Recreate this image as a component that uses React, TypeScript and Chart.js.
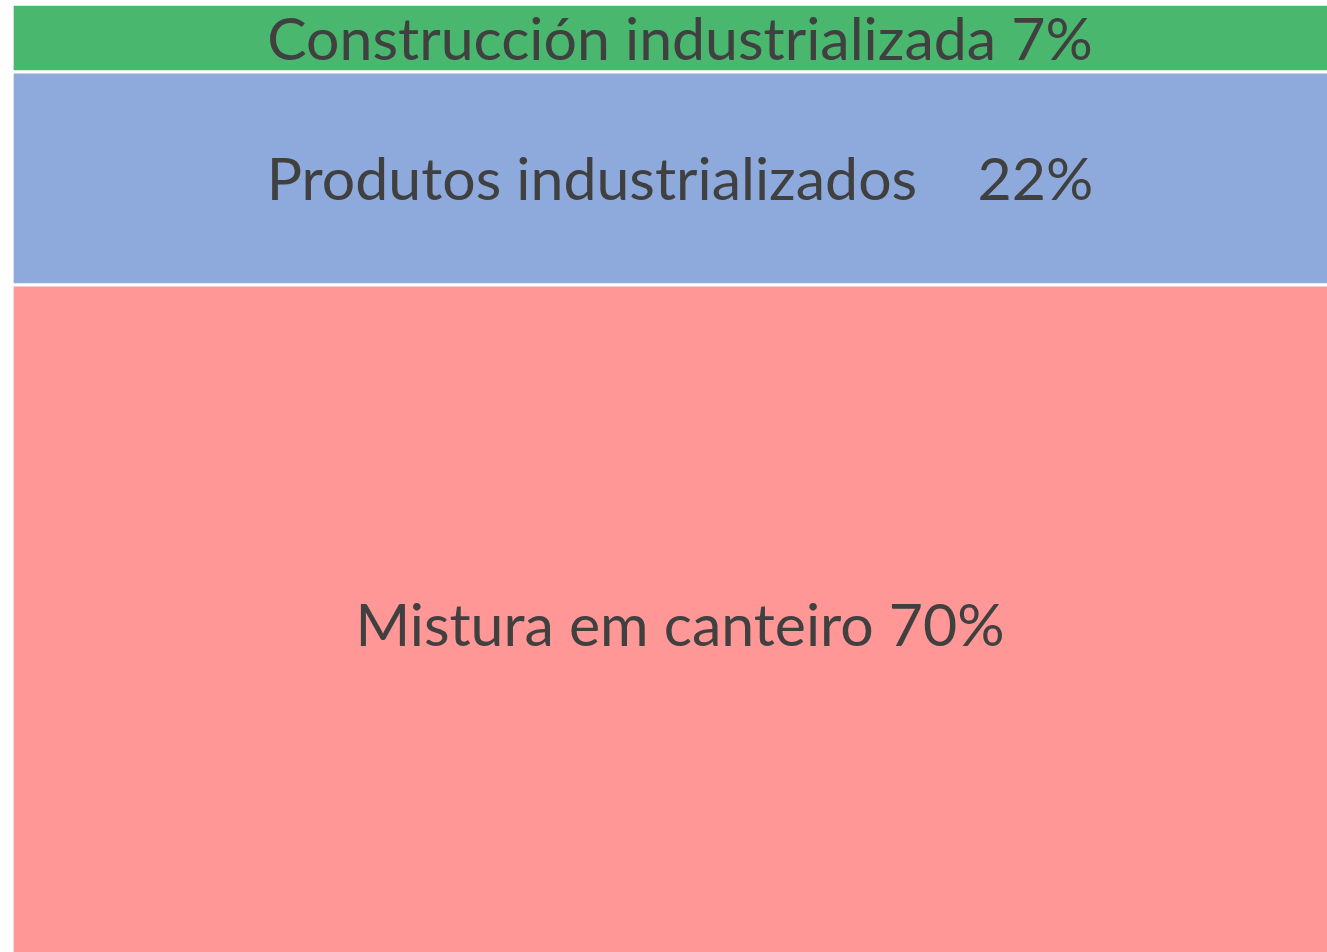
import React, { useEffect, useRef } from "react";
import { Chart, registerables } from "chart.js";

Chart.register(...registerables);

const categories = ["Total"];
const seriesLabels = ["Mistura em canteiro 70%", "Produtos industrializados    22%", "Construcción industrializada 7%"];
const seriesValues = [70, 22, 7];
const seriesColors = ["#FF9797", "#8EAADC", "#4AB76F"];

const labelPlugin = {
  id: "segmentLabels",
  afterDatasetsDraw(chart: any) {
    const ctx = chart.ctx;
    ctx.save();
    ctx.fillStyle = "#404040";
    ctx.font = '59px Lato, "Open Sans", sans-serif';
    ctx.textAlign = "center";
    ctx.textBaseline = "middle";
    chart.data.datasets.forEach((ds: any, i: number) => {
      const meta = chart.getDatasetMeta(i);
      meta.data.forEach((bar: any) => {
        const { x, y, base } = bar.getProps(["x", "y", "base"], true);
        ctx.fillText(ds.label, x, (y + base) / 2 + 3);
      });
    });
    ctx.restore();
  },
};

export default function App() {
  const ref = useRef<HTMLCanvasElement>(null);
  useEffect(() => {
    document.body.style.margin = "0";
    document.body.style.overflow = "hidden";
    const chart = new Chart(ref.current!, {
      type: "bar",
      data: {
        labels: categories,
        datasets: seriesValues.map((v, i) => ({
          label: seriesLabels[i],
          data: [v],
          backgroundColor: seriesColors[i],
          borderColor: "#FFFFFF",
          borderWidth: 2,
          borderSkipped: false,
          categoryPercentage: 1,
          barPercentage: 1,
        })),
      },
      options: {
        responsive: false,
        animation: false,
        layout: { padding: { left: 12, top: 4, right: 0, bottom: 0 } },
        plugins: { legend: { display: false }, tooltip: { enabled: false }, title: { display: false } },
        scales: {
          x: { stacked: true, display: false },
          y: { stacked: true, display: false, min: 0, max: 99 },
        },
      },
      plugins: [labelPlugin],
    });
    return () => chart.destroy();
  }, []);
  return (
    <div style={{ position: "fixed", left: 0, top: 0, width: 1327, height: 952, overflow: "hidden", background: "#fff" }}>
      <canvas ref={ref} width={1348} height={963} style={{ display: "block" }} />
    </div>
  );
}
